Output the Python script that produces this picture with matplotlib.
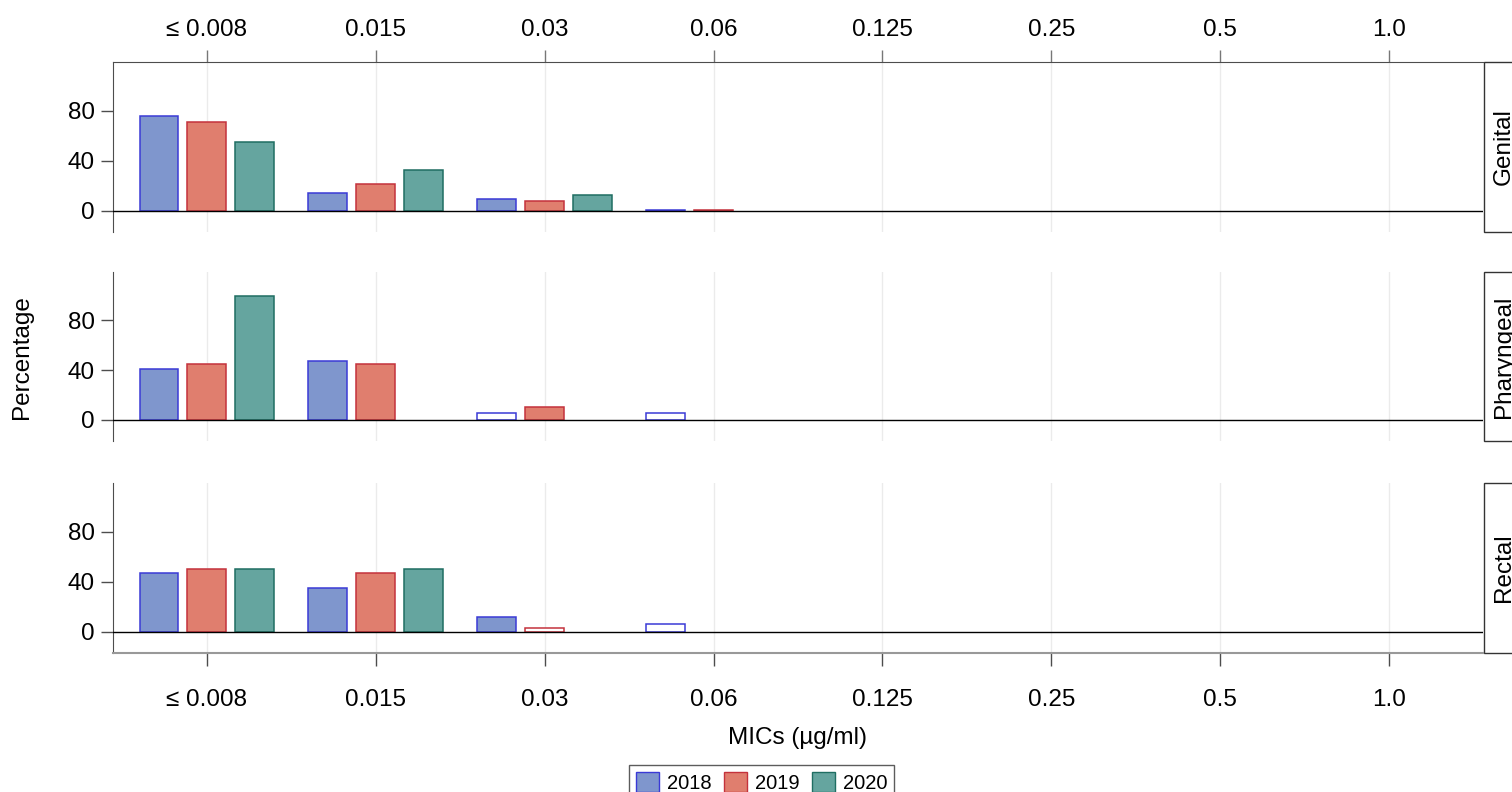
import numpy as np
import matplotlib
matplotlib.use('Agg')
import matplotlib.pyplot as plt
from matplotlib.patches import Rectangle, Patch

plt.rcParams['font.family'] = ['Liberation Sans', 'DejaVu Sans']

# MIC categories (x axis)
mic_labels = ['≤ 0.008', '0.015', '0.03', '0.06', '0.125', '0.25', '0.5', '1.0']
years = ['2018', '2019', '2020']
sites = ['Genital', 'Pharyngeal', 'Rectal']

# Percentages
genital_2018 = [75.5, 14.3, 9.8, 1.0, 0, 0, 0, 0]
genital_2019 = [71.0, 21.5, 7.7, 0.5, 0, 0, 0, 0]
genital_2020 = [54.8, 32.8, 13.0, 0, 0, 0, 0, 0]

pharyngeal_2018 = [41.2, 47.1, 5.9, 5.9, 0, 0, 0, 0]
pharyngeal_2019 = [45.0, 45.0, 10.0, 0, 0, 0, 0, 0]
pharyngeal_2020 = [100.0, 0, 0, 0, 0, 0, 0, 0]

rectal_2018 = [47.1, 35.3, 11.8, 5.9, 0, 0, 0, 0]
rectal_2019 = [50.0, 46.9, 3.1, 0, 0, 0, 0, 0]
rectal_2020 = [50.0, 50.0, 0, 0, 0, 0, 0, 0]

# bars drawn as outlines only (single isolate)
hollow_pharyngeal_2018 = ['0.03', '0.06']
hollow_rectal_2018 = ['0.06']
hollow_rectal_2019 = ['0.03']

data = {
    'Genital': [genital_2018, genital_2019, genital_2020],
    'Pharyngeal': [pharyngeal_2018, pharyngeal_2019, pharyngeal_2020],
    'Rectal': [rectal_2018, rectal_2019, rectal_2020],
}
hollow = {
    ('Pharyngeal', '2018'): hollow_pharyngeal_2018,
    ('Rectal', '2018'): hollow_rectal_2018,
    ('Rectal', '2019'): hollow_rectal_2019,
}

fill_colors = ['#7f96cd', '#e07e6e', '#65a59f']
edge_colors = ['#3a3ad6', '#c4323c', '#1f6e62']

W, H = 1512, 792
fig = plt.figure(figsize=(W / 100, H / 100), dpi=100)

left, right = 113 / W, 1483 / W
panel_px = [(62, 232), (272, 441), (483, 653)]
x = np.arange(len(mic_labels))
offsets = [-0.284, 0, 0.284]
bar_w = 0.23
fs = 17.5

axes = []
for i, site in enumerate(sites):
    top, bot = panel_px[i]
    ax = fig.add_axes([left, 1 - bot / H, right - left, (bot - top) / H])
    axes.append(ax)
    ax.set_xlim(-0.556, len(mic_labels) - 1 + 0.556)
    ax.set_ylim(-17, 119)
    for xi in x:
        ax.axvline(xi, color='#ebebeb', lw=1, zorder=0)
    ax.axhline(0, color='black', lw=1, zorder=3)

    for j, yr in enumerate(years):
        vals = np.array(data[site][j])
        keep = vals > 0
        hol = hollow.get((site, yr), [])
        fc = ['white' if mic_labels[k] in hol else fill_colors[j] for k in range(len(vals))]
        ax.bar(x[keep] + offsets[j], vals[keep], width=bar_w,
               color=[c for c, k in zip(fc, keep) if k],
               edgecolor=edge_colors[j], linewidth=1.1, zorder=2)

    ax.set_yticks([0, 40, 80])
    ax.tick_params(axis='y', labelsize=fs, length=9, width=1, color='#4d4d4d', pad=4)
    for s in ['right', 'top', 'bottom']:
        ax.spines[s].set_visible(False)
    ax.spines['left'].set_color('#4d4d4d')

    ax.set_xticks(x)
    if i == 0:
        ax.xaxis.set_ticks_position('top')
        ax.set_xticklabels(mic_labels)
        ax.tick_params(axis='x', labelsize=fs, length=9, width=1, color='#777777', pad=6)
        ax.spines['top'].set_visible(True)
        ax.spines['top'].set_color('#4d4d4d')
    elif i == 2:
        ax.set_xticklabels(mic_labels)
        ax.tick_params(axis='x', labelsize=fs, length=9, width=1, color='#4d4d4d', pad=17)
        ax.spines['bottom'].set_visible(True)
        ax.spines['bottom'].set_color('#999999')
        ax.spines['bottom'].set_linewidth(1.5)
    else:
        ax.tick_params(axis='x', length=0, labelbottom=False)

    # facet strip on the right
    ax.add_patch(Rectangle((1.0008, 0), 0.05, 1, transform=ax.transAxes,
                           facecolor='white', edgecolor='#333333', lw=1, clip_on=False))
    ax.text((1504 - 113) / 1370, 0.5, site, transform=ax.transAxes, rotation=90,
            ha='center', va='center', fontsize=fs)

fig.text(22 / W, 1 - 357 / H, 'Percentage', rotation=90, ha='center', va='center', fontsize=fs)
fig.text(797 / W, 1 - 738 / H, 'MICs (µg/ml)', ha='center', va='center', fontsize=fs)

handles = [Patch(facecolor=fill_colors[j], edgecolor=edge_colors[j], label=years[j])
           for j in range(3)]
leg = fig.legend(handles=handles, loc='upper center', bbox_to_anchor=(761.5 / W, 1 - 765 / H),
                 ncol=3, fontsize=14.5, frameon=True, fancybox=False, borderpad=0.35,
                 borderaxespad=0, handlelength=1.15, handleheight=1.15, handletextpad=0.4,
                 columnspacing=0.6)
leg.get_frame().set_edgecolor('#333333')
leg.get_frame().set_linewidth(1)

fig.savefig('out.png', dpi=100)
